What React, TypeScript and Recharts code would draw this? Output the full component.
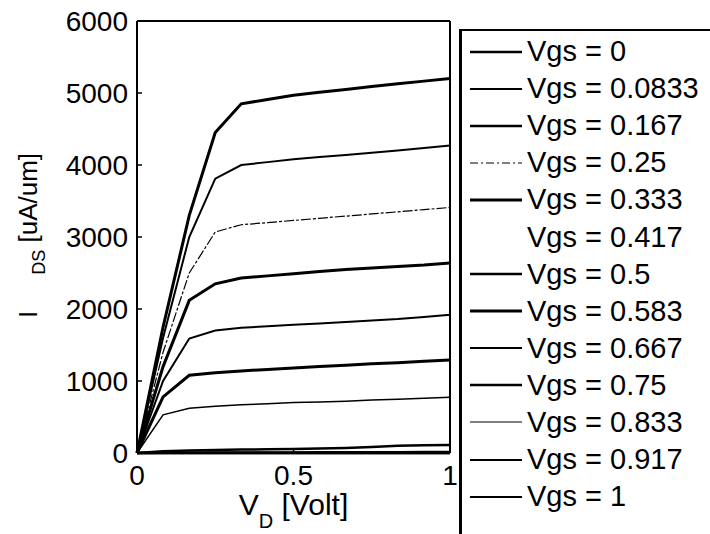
import { Legend, Line, LineChart, ReferenceLine, XAxis, YAxis } from "recharts";

// drain voltage sample points (12 steps, 0..1 V)
const vdVolt = [0, 0.0833, 0.167, 0.25, 0.333, 0.417, 0.5, 0.583, 0.667, 0.75, 0.833, 0.917, 1];

// I_DS [uA/um] per gate voltage
const idsVgs0 = [0, 0, 0, 0, 0, 0, 0, 0, 0, 0, 0, 0, 0];
const idsVgs0083 = [0, 0, 0, 0, 0, 0, 0, 0, 0, 0, 0, 0, 0];
const idsVgs0167 = [0, 0, 0, 0, 0, 0, 0, 0, 0, 0, 0, 0, 0];
const idsVgs025 = [0, 0, 0, 0, 0, 0, 0, 0, 0, 0, 0, 0, 0];
const idsVgs0333 = [0, 3, 5, 6, 7, 8, 8, 9, 10, 11, 12, 13, 14];
const idsVgs0417 = [0, 25, 35, 42, 48, 52, 56, 62, 70, 85, 100, 108, 112];
const idsVgs05 = [0, 530, 620, 650, 670, 685, 700, 710, 720, 735, 745, 760, 775];
const idsVgs0583 = [0, 780, 1080, 1115, 1140, 1160, 1180, 1200, 1220, 1240, 1255, 1275, 1290];
const idsVgs0667 = [0, 1000, 1590, 1700, 1740, 1760, 1780, 1800, 1820, 1840, 1860, 1890, 1920];
const idsVgs075 = [0, 1200, 2120, 2350, 2430, 2460, 2490, 2520, 2550, 2570, 2590, 2610, 2640];
const idsVgs0833 = [0, 1400, 2500, 3070, 3170, 3200, 3230, 3260, 3290, 3320, 3350, 3380, 3410];
const idsVgs0917 = [0, 1600, 3000, 3810, 4000, 4040, 4080, 4110, 4140, 4170, 4200, 4235, 4270];
const idsVgs1 = [0, 1750, 3300, 4450, 4850, 4910, 4970, 5010, 5050, 5090, 5130, 5165, 5200];

const xTicks = [0, 0.5, 1];
const yTicks = [0, 1000, 2000, 3000, 4000, 5000, 6000];

const FONT = '"Liberation Sans", Arial, Helvetica, sans-serif';

// line looks: w = width in plot, lw = width of legend sample (0 = none drawn)
const series = [
  { name: "Vgs = 0", values: idsVgs0, w: 2.5, lw: 2.5 },
  { name: "Vgs = 0.0833", values: idsVgs0083, w: 2, lw: 2 },
  { name: "Vgs = 0.167", values: idsVgs0167, w: 2.5, lw: 2.5 },
  { name: "Vgs = 0.25", values: idsVgs025, w: 1.2, lw: 1.2, dash: "8 3 2 3" },
  { name: "Vgs = 0.333", values: idsVgs0333, w: 2.5, lw: 3 },
  { name: "Vgs = 0.417", values: idsVgs0417, w: 2.5, lw: 0 },
  { name: "Vgs = 0.5", values: idsVgs05, w: 1.5, lw: 2.5 },
  { name: "Vgs = 0.583", values: idsVgs0583, w: 3, lw: 3 },
  { name: "Vgs = 0.667", values: idsVgs0667, w: 2, lw: 1.8 },
  { name: "Vgs = 0.75", values: idsVgs075, w: 3, lw: 2.5 },
  { name: "Vgs = 0.833", values: idsVgs0833, w: 1.2, lw: 1.2 },
  { name: "Vgs = 0.917", values: idsVgs0917, w: 2, lw: 2.2 },
  { name: "Vgs = 1", values: idsVgs1, w: 3, lw: 1.8 },
];

const rows = vdVolt.map((vd, i) => {
  const row: Record<string, number> = { vd };
  series.forEach((s) => {
    row[s.name] = s.values[i];
  });
  return row;
});

function XTitle(props: any) {
  const vb = props.viewBox ?? { x: 0, y: 0, width: 0 };
  return (
    <text
      x={vb.x + vb.width / 2}
      y={vb.y + 62}
      textAnchor="middle"
      fontSize={30}
      fontFamily={FONT}
      fill="#000"
    >
      V
      <tspan fontSize={20} dy={13}>
        D
      </tspan>
      <tspan dy={-13}> [Volt]</tspan>
    </text>
  );
}

function YTitle(props: any) {
  const vb = props.viewBox ?? { x: 0, y: 0 };
  const x = vb.x + 37;
  const y = vb.y + 297;
  return (
    <text
      x={x}
      y={y}
      transform={`rotate(-90, ${x}, ${y})`}
      fontSize={26}
      fontFamily={FONT}
      fill="#000"
    >
      I
      <tspan fontSize={18} dx={36} dy={8}>
        DS
      </tspan>
      <tspan dy={-8}> [uA/um]</tspan>
    </text>
  );
}

function LegendBox(props: any) {
  const entries: { value: string }[] = props.payload ?? [];
  return (
    <div
      style={{
        width: 260,
        height: 505,
        boxSizing: "border-box",
        borderLeft: "3px solid #000",
        borderTop: "2px solid #000",
        paddingTop: 2,
        fontFamily: FONT,
        background: "#fff",
      }}
    >
      {entries.map((entry) => {
        const s = series.find((d) => d.name === entry.value);
        const lw = s ? s.lw : 1;
        return (
          <div
            key={entry.value}
            style={{ display: "flex", alignItems: "center", height: 37.1 }}
          >
            <svg width={52} height={10} style={{ marginLeft: 8, flex: "none" }}>
              {lw > 0 ? (
                <line
                  x1={0}
                  x2={52}
                  y1={5}
                  y2={5}
                  stroke="#000"
                  strokeWidth={lw}
                  strokeDasharray={s?.dash}
                />
              ) : null}
            </svg>
            <span
              style={{
                marginLeft: 5,
                fontSize: 29,
                lineHeight: "37px",
                whiteSpace: "nowrap",
                color: "#000",
              }}
            >
              {entry.value}
            </span>
          </div>
        );
      })}
    </div>
  );
}

export default function App() {
  const tickFont = { fill: "#000", fontSize: 28, fontFamily: FONT };
  const axisLine = { stroke: "#000", strokeWidth: 2 };
  const tickLine = { stroke: "#000", strokeWidth: 1.5 };

  return (
    <div style={{ width: 710, height: 534, background: "#fff", overflow: "hidden" }}>
      <style>{"body{margin:0;background:#fff}"}</style>
      <LineChart
        width={710}
        height={534}
        data={rows}
        margin={{ top: 1, right: 0, bottom: 0, left: 0 }}
      >
        <XAxis
          dataKey="vd"
          type="number"
          domain={[0, 1]}
          ticks={xTicks}
          height={81}
          tick={tickFont}
          tickSize={-5}
          tickMargin={17}
          axisLine={axisLine}
          tickLine={tickLine}
          label={{ content: XTitle }}
        />
        {/* top and right axes only close the box (same scales as the main ones) */}
        <XAxis
          xAxisId="t"
          dataKey="vd"
          orientation="top"
          type="number"
          domain={[0, 1]}
          ticks={xTicks}
          height={20}
          tick={false}
          tickSize={-5}
          axisLine={axisLine}
          tickLine={tickLine}
        />
        <YAxis
          type="number"
          domain={[0, 6000]}
          ticks={yTicks}
          width={137}
          tick={tickFont}
          tickSize={-5}
          tickMargin={14}
          axisLine={axisLine}
          tickLine={tickLine}
          label={{ content: YTitle }}
        />
        <YAxis
          yAxisId="r"
          orientation="right"
          type="number"
          domain={[0, 6000]}
          ticks={yTicks}
          width={260}
          tick={false}
          tickSize={-5}
          axisLine={axisLine}
          tickLine={tickLine}
        />
        <ReferenceLine y={6000} stroke="#000" strokeWidth={2} ifOverflow="visible" />
        <Legend
          layout="horizontal"
          align="center"
          verticalAlign="middle"
          width={260}
          content={LegendBox}
          wrapperStyle={{ position: "absolute", left: 459, top: 29, width: 260, height: 505 }}
        />
        {series.map((s, i) => (
          <Line
            key={s.name}
            xAxisId={i === 0 ? "t" : 0}
            yAxisId={i === 0 ? "r" : 0}
            type="linear"
            dataKey={s.name}
            name={s.name}
            stroke="#000"
            strokeWidth={s.w}
            strokeDasharray={s.name === "Vgs = 0.833" ? "10 2 3 2" : undefined}
            dot={false}
            activeDot={false}
            isAnimationActive={false}
          />
        ))}
      </LineChart>
    </div>
  );
}
